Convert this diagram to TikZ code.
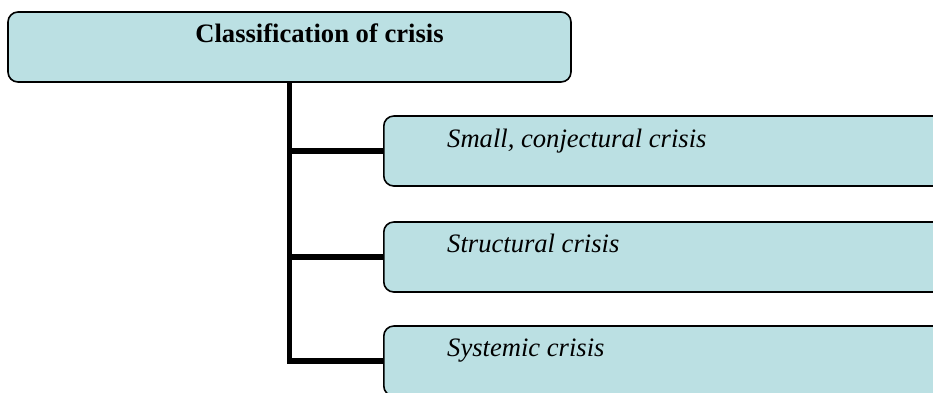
\documentclass[tikz,border=0pt]{standalone}
\usepackage{fontspec}
\setmainfont{Liberation Serif}
\definecolor{boxfill}{HTML}{BBE0E3}
\begin{document}
\begin{tikzpicture}[x=1pt,y=-1pt,
  box/.style={draw=black, fill=boxfill, line width=1.6pt, rounded corners=10pt,
    minimum height=70pt, inner sep=0pt},
  conn/.style={draw=black, line width=5.5pt},
  lbl/.style={inner sep=0pt, font=\fontsize{26.6}{32}\selectfont\itshape},
  ttl/.style={inner sep=0pt, font=\fontsize{26.6}{32}\selectfont\bfseries}]
\useasboundingbox (0,0) rectangle (933,392);
\node[box, minimum width=563pt] (top) at (289.5,47) {};
\node[box, minimum width=570pt, anchor=west] (c1) at (383,151) {};
\node[box, minimum width=570pt, anchor=west] (c2) at (383,257) {};
\node[box, minimum width=570pt, anchor=west] (c3) at (383,361) {};
\draw[conn] (top.south) |- (c3.west);
\draw[conn] (top.south |- c1.west) -- (c1.west);
\draw[conn] (top.south |- c2.west) -- (c2.west);
\node[ttl, anchor=base] (tt) at (319.5,42) {Classification of crisis};
\node[lbl, anchor=base west] (t1) at (447,147) {Small, conjectural crisis};
\node[lbl, anchor=base west] (t2) at (447,252) {Structural crisis};
\node[lbl, anchor=base west] (t3) at (447,356) {Systemic crisis};
\end{tikzpicture}
\end{document}
